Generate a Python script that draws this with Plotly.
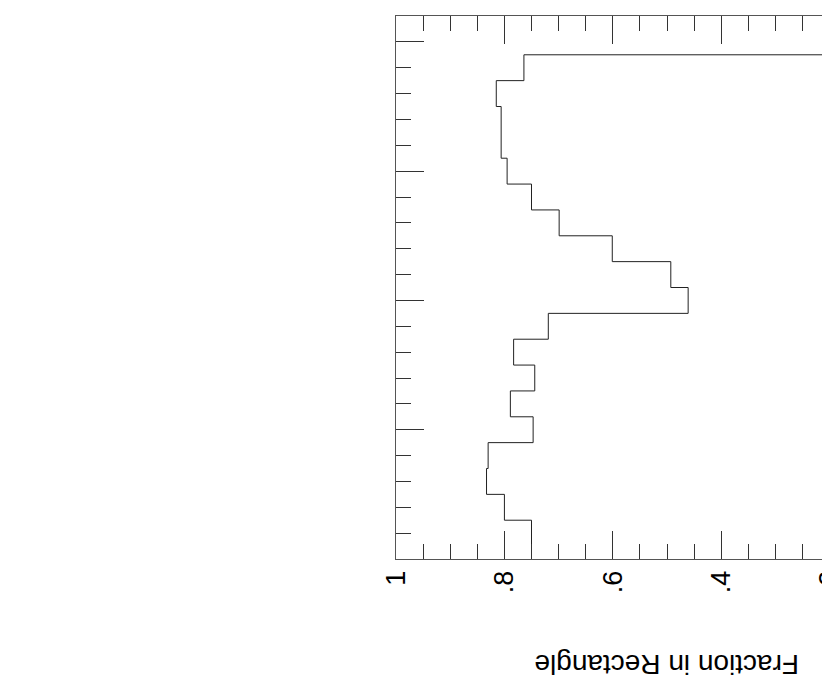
import numpy as np
import plotly.graph_objects as go

# rotated page: fraction runs across, bins run down the page
bins = [0, 1, 2, 3, 4, 5, 6, 7, 8, 9, 10, 11, 12, 13, 14, 15, 16, 17, 18, 19, 20]
fraction = [0.210, 0.764, 0.815, 0.806, 0.806, 0.795, 0.750, 0.699, 0.601, 0.493, 0.461,
            0.719, 0.783, 0.744, 0.789, 0.747, 0.830, 0.833, 0.800, 0.750, 0.750]
tick_vals = [1, 0.8, 0.6, 0.4, 0.2]
tick_text = ["1", ".8", ".6", ".4", ".2"]
axis_title = "Fraction in Rectangle"

# stairstep: each value held over its bin
b = np.asarray(bins, dtype=float)
edges_y = np.column_stack([b - 0.5, b + 0.5]).ravel()
step_x = np.repeat(np.asarray(fraction), 2)

fig = go.Figure()
fig.add_trace(go.Scatter(x=step_x, y=edges_y, mode="lines",
                         line=dict(color="#222222", width=1), showlegend=False,
                         hoverinfo="skip"))

fig.add_annotation(text=axis_title, x=0.5, xref="x", y=-0.194, yref="paper",
                   xanchor="center", yanchor="middle", textangle=180, showarrow=False,
                   font=dict(size=28, color="black", family="Liberation Sans, Arial, sans-serif"))

# page body adds 8px, so the figure is sized 8px smaller each way
fig.update_layout(
    width=822, height=687,
    margin=dict(l=388, r=0, t=8, b=136, autoexpand=False),
    plot_bgcolor="white", paper_bgcolor="white",
    font=dict(family="Liberation Sans, Arial, sans-serif", color="black"),
    xaxis=dict(range=[1, 0.1993], tickvals=tick_vals, ticktext=tick_text,
               tickangle=-90, tickfont=dict(size=27), ticklabeloverflow="allow",
               automargin=False,
               ticks="inside", ticklen=28, tickcolor="#333", tickwidth=1,
               minor=dict(dtick=0.05, tick0=0, ticks="inside", ticklen=15,
                          tickcolor="#333", tickwidth=1, showgrid=False),
               showline=True, linecolor="#555", linewidth=1, mirror="ticks",
               showgrid=False, zeroline=False),
    yaxis=dict(range=[20, -1], tickvals=[0, 5, 10, 15, 20], showticklabels=False,
               automargin=False,
               ticks="inside", ticklen=28, tickcolor="#333", tickwidth=1,
               minor=dict(dtick=1, tick0=0, ticks="inside", ticklen=15,
                          tickcolor="#333", tickwidth=1, showgrid=False),
               showline=True, linecolor="#555", linewidth=1,
               showgrid=False, zeroline=False),
)

fig.write_html("out.html")
